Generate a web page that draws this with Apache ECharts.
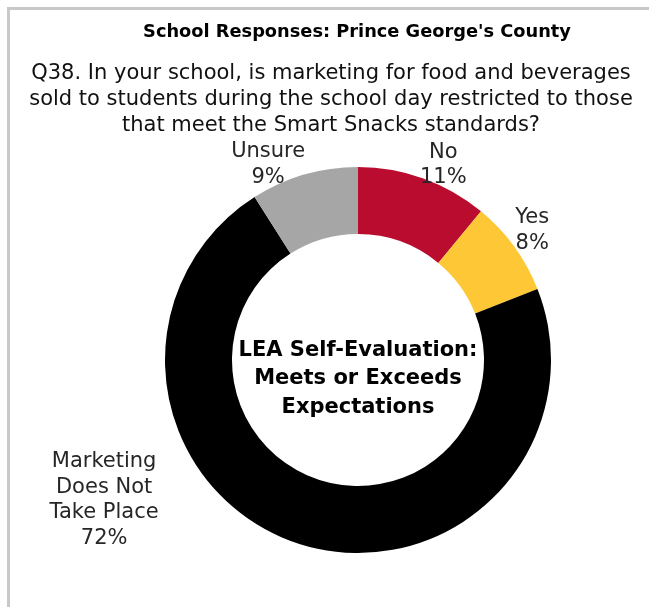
<!DOCTYPE html>
<html>
<head>
<meta charset="utf-8">
<script src="https://cdn.jsdelivr.net/npm/echarts@6/dist/echarts.min.js"></script>
<style>html,body{margin:0;padding:0;background:#fff}#c{width:649px;height:607px}</style>
</head>
<body>
<div id="c"></div>
<script>
// ---- data ----
const categories = ['No', 'Yes', 'Marketing\nDoes Not\nTake Place', 'Unsure'];
const values = [11, 8, 72, 9];
const colors = ['#BA0C2F', '#FDC735', '#000000', '#A6A6A6'];
const titleText = "School Responses: Prince George's County";
const questionText = 'Q38. In your school, is marketing for food and beverages\nsold to students during the school day restricted to those\nthat meet the Smart Snacks standards?';
const centerText = 'LEA Self-Evaluation:\nMeets or Exceeds\nExpectations';

// ---- layout ----
const CX = 358, CY = 360, R_IN = 126, R_OUT = 193;
// label placement in polar terms (degrees clockwise from top, distance from centre)
const labelPolar = [[23.6, 213], [53.4, 217], [241.1, 290], [335.3, 215]];
const FONT = '"DejaVu Sans", sans-serif';

const chart = echarts.init(document.getElementById('c'), null, {renderer: 'canvas'});
chart.setOption({
  backgroundColor: '#ffffff',
  animation: false,
  title: [
    {text: titleText, left: 357, top: 21, textAlign: 'center', padding: 0,
     textStyle: {fontFamily: FONT, fontSize: 17.8, fontWeight: 'bold', color: '#000', lineHeight: 22}},
    {text: questionText, left: 331, top: 61, textAlign: 'center', padding: 0,
     textStyle: {fontFamily: FONT, fontSize: 21, fontWeight: 'normal', color: '#111', lineHeight: 26}}
  ],
  graphic: [
    {type: 'rect', silent: true, z: -1,
     shape: {x: 8.5, y: 8.5, width: 800, height: 800},
     style: {fill: 'none', stroke: '#c8c8c8', lineWidth: 3}},
    {type: 'text', x: CX, y: CY + 19, z: 10,
     style: {text: centerText, fill: '#000', align: 'center', verticalAlign: 'middle',
             fontFamily: FONT, fontSize: 21, fontWeight: 'bold', lineHeight: 28.5}}
  ],
  series: [{
    type: 'pie',
    center: [CX, CY],
    radius: [R_IN, R_OUT],
    startAngle: 90,
    clockwise: true,
    avoidLabelOverlap: false,
    emphasis: {disabled: true},
    itemStyle: {borderWidth: 0},
    color: colors,
    label: {
      show: true, position: 'outside',
      formatter: p => p.name + '\n' + p.value + '%',
      fontFamily: FONT, fontSize: 21, color: '#262626', lineHeight: 25.5, align: 'center'
    },
    labelLine: {show: false},
    labelLayout: function (params) {
      const pl = labelPolar[params.dataIndex];
      const a = pl[0] * Math.PI / 180;
      return {
        x: CX + Math.sin(a) * pl[1],
        y: CY - Math.cos(a) * pl[1],
        align: 'center',
        verticalAlign: 'middle'
      };
    },
    data: categories.map((c, i) => ({name: c, value: values[i]}))
  }]
});
</script>
</body>
</html>
